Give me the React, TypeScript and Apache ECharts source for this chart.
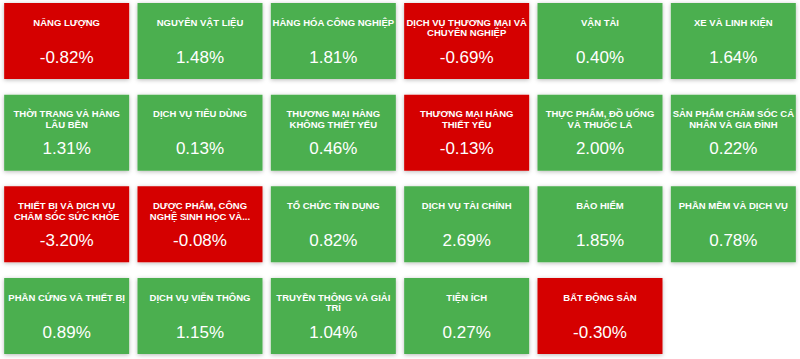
import React, { useEffect, useRef } from "react";
import * as echarts from "echarts";

const columnCount = 6;

const sectorLabels = [
  "NĂNG LƯỢNG",
  "NGUYÊN VẬT LIỆU",
  "HÀNG HÓA CÔNG NGHIỆP",
  "DỊCH VỤ THƯƠNG MẠI VÀ\nCHUYÊN NGHIỆP",
  "VẬN TẢI",
  "XE VÀ LINH KIỆN",
  "THỜI TRANG VÀ HÀNG\nLÂU BỀN",
  "DỊCH VỤ TIÊU DÙNG",
  "THƯƠNG MẠI HÀNG\nKHÔNG THIẾT YẾU",
  "THƯƠNG MẠI HÀNG\nTHIẾT YẾU",
  "THỰC PHẨM, ĐỒ UỐNG\nVÀ THUỐC LÁ",
  "SẢN PHẨM CHĂM SÓC CÁ\nNHÂN VÀ GIA ĐÌNH",
  "THIẾT BỊ VÀ DỊCH VỤ\nCHĂM SÓC SỨC KHỎE",
  "DƯỢC PHẨM, CÔNG\nNGHỆ SINH HỌC VÀ...",
  "TỔ CHỨC TÍN DỤNG",
  "DỊCH VỤ TÀI CHÍNH",
  "BẢO HIỂM",
  "PHẦN MỀM VÀ DỊCH VỤ",
  "PHẦN CỨNG VÀ THIẾT BỊ",
  "DỊCH VỤ VIỄN THÔNG",
  "TRUYỀN THÔNG VÀ GIẢI\nTRÍ",
  "TIỆN ÍCH",
  "BẤT ĐỘNG SẢN",
];

const changes = [
  -0.82, 1.48, 1.81, -0.69, 0.4, 1.64,
  1.31, 0.13, 0.46, -0.13, 2.0, 0.22,
  -3.2, -0.08, 0.82, 2.69, 1.85, 0.78,
  0.89, 1.15, 1.04, 0.27, -0.3,
];

const UP = "#4caf50";
const DOWN = "#d50000";
const FONT = '"Liberation Sans", Arial, Helvetica, sans-serif';

export default function App() {
  const ref = useRef<HTMLDivElement>(null);

  useEffect(() => {
    if (!ref.current) return;
    const chart = echarts.init(ref.current, null, { renderer: "svg" });
    const data = changes.map((v, i) => [
      i % columnCount,
      Math.floor(i / columnCount),
      v,
      sectorLabels[i],
    ]);
    chart.setOption({
      animation: false,
      grid: { left: 0, right: 0, top: 0, bottom: 0 },
      xAxis: { type: "value", min: -0.5, max: 5.5, show: false },
      yAxis: { type: "value", min: -0.4473, max: 3.469, inverse: true, show: false },
      series: [
        {
          type: "custom",
          data,
          clip: false,
          renderItem: (params: any, api: any) => {
            const c = api.coord([api.value(0), api.value(1)]);
            const s = api.size([1, 1]);
            const w = s[0] * 0.9375;
            const h = s[1] * 0.829;
            const left = c[0] - w / 2;
            const top = c[1] - h / 2;
            const v = api.value(2) as number;
            const name = data[params.dataIndex][3] as string;
            return {
              type: "group",
              children: [
                {
                  type: "rect",
                  shape: { x: left, y: top, width: w, height: h },
                  style: {
                    fill: v < 0 ? DOWN : UP,
                    shadowBlur: 4,
                    shadowColor: "rgba(0,0,0,0.28)",
                    shadowOffsetY: 1,
                  },
                },
                {
                  type: "text",
                  x: c[0],
                  y: top + 14,
                  style: {
                    text: name,
                    fill: "#ffffff",
                    fontFamily: FONT,
                    fontWeight: "bold",
                    fontSize: 9.5,
                    lineHeight: 10.5,
                    align: "center",
                    verticalAlign: "top",
                  },
                },
                {
                  type: "text",
                  x: c[0],
                  y: top + 54,
                  style: {
                    text: v.toFixed(2) + "%",
                    fill: "#ffffff",
                    fontFamily: FONT,
                    fontSize: 17,
                    align: "center",
                    verticalAlign: "middle",
                  },
                },
              ],
            };
          },
        },
      ],
    });
    return () => chart.dispose();
  }, []);

  return (
    <div
      ref={ref}
      style={{ position: "fixed", left: 0, top: 0, width: 800, height: 359, background: "#ffffff" }}
    />
  );
}
